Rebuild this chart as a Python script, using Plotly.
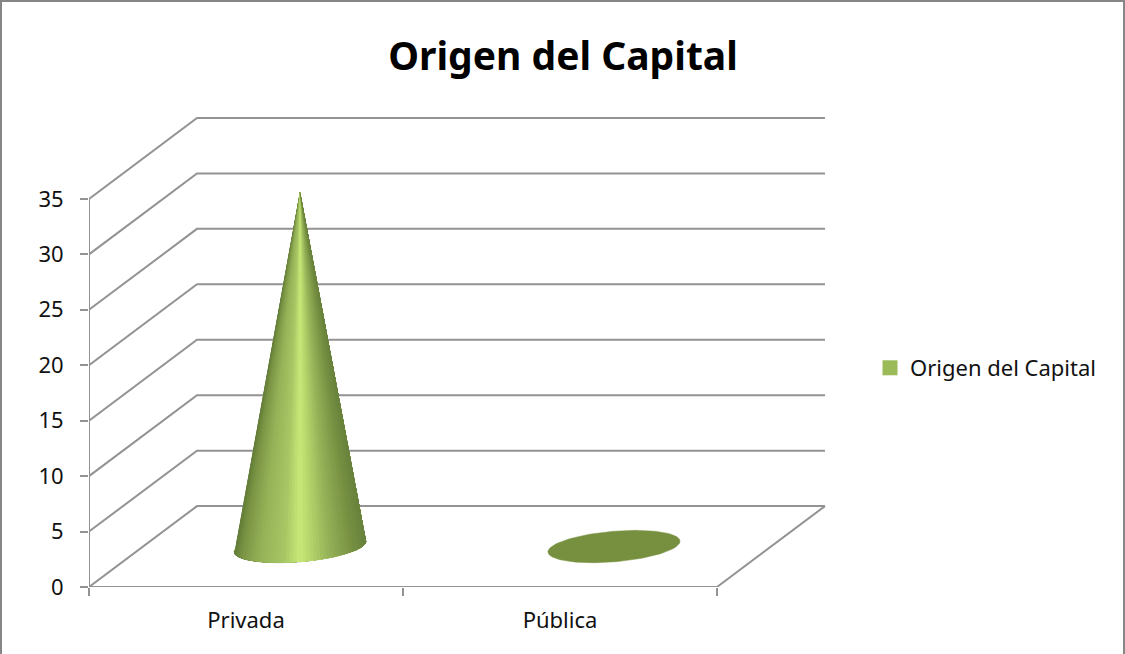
import math
import plotly.graph_objects as go

# ---- data ----
categories = ["Privada", "Pública"]
values = [32, 0]
series_name = "Origen del Capital"
title_text = "Origen del Capital"
y_ticks = [0, 5, 10, 15, 20, 25, 30, 35]

# ---- styles / layout constants ----
W, H = 1125, 654
PX_PER_CAT = 314.0
PX_PER_VAL = 11.1
DEPTH_PX = (108.0, 81.0)
M_L, M_R, M_T, M_B = 89, 299, 100, 66.5
GRID = "#939393"
BASE_COL = "#77903f"
LEG_COL = "#9BBB59"
FONT = "Noto Sans"
SHADE = [(0.0, (98, 124, 56)), (0.06, (122, 148, 68)), (0.2, (150, 178, 88)),
         (0.38, (168, 198, 100)), (0.46, (190, 222, 114)), (0.5, (200, 232, 122)),
         (0.56, (186, 218, 110)), (0.72, (150, 178, 88)), (0.9, (118, 144, 66)),
         (1.0, (104, 130, 60))]

dx = DEPTH_PX[0] / PX_PER_CAT
dy = DEPTH_PX[1] / PX_PER_VAL
n_cat = len(categories)
R_U = 62.4 / PX_PER_CAT   # radius along the category direction
R_D = 0.2                 # radius as a share of the depth vector


def shade(f):
    for (f0, c0), (f1, c1) in zip(SHADE, SHADE[1:]):
        if f <= f1:
            k = (f - f0) / (f1 - f0)
            return "rgb(%d,%d,%d)" % tuple(round(a + (b - a) * k) for a, b in zip(c0, c1))
    return "rgb(%d,%d,%d)" % SHADE[-1][1]


def base_pt(cx, t):
    return (cx + R_U * math.cos(t) + R_D * dx * math.sin(t),
            0.5 * dy + R_D * dy * math.sin(t))


fig = go.Figure()


def line(xs, ys):
    fig.add_trace(go.Scatter(x=xs, y=ys, mode="lines", showlegend=False, hoverinfo="skip",
                             cliponaxis=False, line=dict(color=GRID, width=2)))


# walls and floor
for t in y_ticks:
    line([0, dx, dx + n_cat], [t, t + dy, t + dy])
line([0, n_cat, n_cat + dx], [0, 0, dy])
line([0, 0], [0, y_ticks[-1]])

# cones: each band covers everything to its right, so the next band paints over it without seams
t0 = math.atan2(R_D * dx * PX_PER_CAT, R_U * PX_PER_CAT)
N = 60
for i, (cat, v) in enumerate(zip(categories, values)):
    cx = i + 0.5 + 0.5 * dx
    ell = [base_pt(cx, 2 * math.pi * k / 120) for k in range(121)]
    fig.add_trace(go.Scatter(x=[p[0] for p in ell], y=[p[1] for p in ell], mode="lines",
                             fill="toself", fillcolor=BASE_COL, line=dict(color=BASE_COL, width=0.5),
                             showlegend=False, name=cat, hoverinfo="skip"))
    if v <= 0:
        continue
    apex = (cx, v + 0.5 * dy)
    xl = base_pt(cx, math.pi + t0)[0]
    xr = base_pt(cx, 2 * math.pi + t0)[0]
    for k in range(N):
        arc = [base_pt(cx, math.pi + t0 + math.pi * j / 90) for j in range(91)
               if j / 90 >= k / N]
        p0 = base_pt(cx, math.pi + t0 + math.pi * k / N)
        p1 = base_pt(cx, math.pi + t0 + math.pi * (k + 1) / N)
        f = ((p0[0] + p1[0]) / 2 - xl) / (xr - xl)
        c = shade(f)
        poly = [apex, p0] + arc + [apex]
        fig.add_trace(go.Scatter(x=[p[0] for p in poly], y=[p[1] for p in poly],
                                 mode="lines", fill="toself", fillcolor=c,
                                 line=dict(color=c, width=0),
                                 showlegend=False, name=cat, hoverinfo="skip"))

# legend entry
fig.add_trace(go.Scatter(x=[None], y=[None], mode="markers", name=series_name,
                         marker=dict(symbol="square", size=15, color=LEG_COL)))

fig.update_layout(
    width=W, height=H, autosize=False,
    margin=dict(l=M_L, r=M_R, t=M_T, b=M_B, pad=0),
    paper_bgcolor="white", plot_bgcolor="white",
    font=dict(family=FONT, size=22, color="#111111"),
    title=dict(text="<b>%s</b>" % title_text, x=563 / W, y=1 - 56 / H, xanchor="center", yanchor="middle",
               xref="container", yref="container",
               font=dict(family=FONT, size=39, color="#000000")),
    xaxis=dict(range=[0, (W - M_L - M_R) / PX_PER_CAT], showgrid=False, zeroline=False, showline=False,
               tickmode="array", tickvals=[i + 0.5 for i in range(n_cat)], ticktext=categories,
               ticks="", ticklabelstandoff=18, fixedrange=True,
               minor=dict(tickmode="array", tickvals=list(range(n_cat + 1)), ticks="outside",
                          ticklen=8, tickwidth=2, tickcolor=GRID, showgrid=False)),
    yaxis=dict(range=[0, (H - M_T - M_B) / PX_PER_VAL], showgrid=False, zeroline=False, showline=False,
               tickmode="array", tickvals=y_ticks, ticks="outside", ticklen=8, tickwidth=2,
               tickcolor=GRID, ticklabelstandoff=12, fixedrange=True),
    legend=dict(x=870 / W, y=1 - 368 / H, xanchor="left", yanchor="middle", xref="container", yref="container",
                bgcolor="rgba(0,0,0,0)", font=dict(family=FONT, size=22, color="#111111")),
    showlegend=True,
    shapes=[dict(type="rect", xref="paper", yref="paper", layer="below",
                 x0=-(M_L - 1) / (W - M_L - M_R), x1=1 + (M_R - 1) / (W - M_L - M_R),
                 y0=-(M_B + 10) / (H - M_T - M_B), y1=1 + (M_T - 1) / (H - M_T - M_B),
                 line=dict(color="#868686", width=2), fillcolor="white")],
)

fig.write_html("out.html", config=dict(displayModeBar=False),
               post_script="document.body.style.margin='0';document.body.style.overflow='hidden';")
